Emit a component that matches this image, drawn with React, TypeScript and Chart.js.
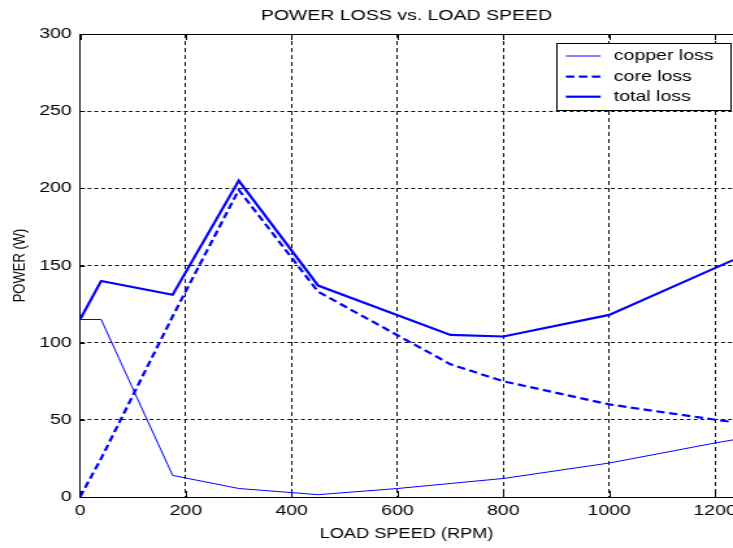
import React, { useEffect, useRef } from 'react';
import { Chart, registerables } from 'chart.js';

Chart.register(...registerables);

// ---- data ----
const copperSpeed = [0, 40, 175, 300, 450, 600, 800, 1000, 1200, 1234];
const copperLoss = [115, 115, 14, 5.5, 1.5, 5.5, 12, 22, 35, 37];

const coreSpeed = [0, 40, 175, 300, 450, 700, 800, 1000, 1100, 1234];
const coreLoss = [0, 25, 117, 199, 133, 86, 75, 60, 55, 48.5];

const totalSpeed = [0, 40, 175, 300, 450, 700, 800, 1000, 1234];
const totalLoss = [115, 140, 131, 205, 137, 105, 104, 118, 153.5];

const seriesLabels = ['copper loss', 'core loss', 'total loss'];
const chartTitle = 'POWER LOSS vs. LOAD SPEED';
const xTitle = 'LOAD SPEED (RPM)';
const yTitle = 'POWER (W)';
const xTickValues = [0, 200, 400, 600, 800, 1000, 1200];
const yTickValues = [0, 50, 100, 150, 200, 250, 300];
const xMin = 0;
const xMax = 1234;
const yMin = 0;
const yMax = 300;

// ---- layout / style ----
const CSS_W = 733;
const CSS_H = 548;
const INT_W = 564; // drawn narrower, shown stretched like the reference bitmap
const SX = CSS_W / INT_W;
const FONT = "'Liberation Sans', Arial, Helvetica, sans-serif";
const BLUE = '#0000ff';

const toPoints = (xs: number[], ys: number[]) => xs.map((x, i) => ({ x, y: ys[i] }));

const framePlugin = {
  id: 'matlabFrame',
  beforeDatasetsDraw(chart: any) {
    const { ctx, chartArea: a, scales } = chart;
    ctx.save();
    ctx.strokeStyle = '#000';
    ctx.lineWidth = 1;
    ctx.setLineDash([]);
    ctx.beginPath();
    const topY = Math.round(a.top) + 0.5;
    ctx.moveTo(a.left, topY);
    ctx.lineTo(a.right, topY);
    for (const t of scales.x.ticks) {
      const px = Math.round(scales.x.getPixelForValue(t.value)) + 0.5;
      ctx.moveTo(px, a.bottom);
      ctx.lineTo(px, a.bottom - 6);
      ctx.moveTo(px, a.top);
      ctx.lineTo(px, a.top + 6);
    }
    const tl = 5 / SX;
    for (const t of scales.y.ticks) {
      const py = Math.round(scales.y.getPixelForValue(t.value)) + 0.5;
      ctx.moveTo(a.left, py);
      ctx.lineTo(a.left + tl, py);
    }
    ctx.stroke();
    ctx.restore();
  },
};

const legendPlugin = {
  id: 'matlabLegend',
  afterDatasetsDraw(chart: any) {
    const { ctx, chartArea: a } = chart;
    const right = a.right - 1.7;
    const left = right - 133.8;
    const top = a.top + 9;
    const bottom = top + 67;
    ctx.save();
    ctx.fillStyle = '#fff';
    ctx.fillRect(left, top, right - left, bottom - top);
    ctx.strokeStyle = '#000';
    ctx.lineWidth = 1;
    ctx.setLineDash([]);
    ctx.strokeRect(Math.round(left) + 0.5, Math.round(top) + 0.5, Math.round(right - left), Math.round(bottom - top));
    const rows = [13, 33.7, 53.7];
    chart.data.datasets.forEach((ds: any, i: number) => {
      const y = top + rows[i];
      ctx.beginPath();
      ctx.strokeStyle = ds.borderColor;
      ctx.lineWidth = ds.borderWidth;
      ctx.setLineDash(ds.borderDash || []);
      ctx.moveTo(left + 6.9, y);
      ctx.lineTo(left + 33.6, y);
      ctx.stroke();
      ctx.setLineDash([]);
      ctx.fillStyle = '#000';
      ctx.font = `15px ${FONT}`;
      ctx.textAlign = 'left';
      ctx.textBaseline = 'middle';
      ctx.fillText(ds.label, left + 43.8, y);
    });
    ctx.restore();
  },
};

export default function App() {
  const canvasRef = useRef<HTMLCanvasElement | null>(null);

  useEffect(() => {
    const canvas = canvasRef.current;
    if (!canvas) return;
    const chart = new Chart(canvas, {
      type: 'line',
      data: {
        datasets: [
          {
            label: seriesLabels[0],
            data: toPoints(copperSpeed, copperLoss),
            borderColor: BLUE,
            borderWidth: 1,
            pointRadius: 0,
            tension: 0,
            fill: false,
          },
          {
            label: seriesLabels[1],
            data: toPoints(coreSpeed, coreLoss),
            borderColor: BLUE,
            borderWidth: 2.2,
            borderDash: [6.5, 3.5],
            pointRadius: 0,
            tension: 0,
            fill: false,
          },
          {
            label: seriesLabels[2],
            data: toPoints(totalSpeed, totalLoss),
            borderColor: BLUE,
            borderWidth: 2.2,
            pointRadius: 0,
            tension: 0,
            fill: false,
          },
        ],
      },
      options: {
        animation: false,
        responsive: false,
        devicePixelRatio: 1,
        events: [],
        layout: { padding: 0 },
        plugins: {
          legend: { display: false },
          tooltip: { enabled: false },
          title: {
            display: true,
            text: chartTitle,
            fullSize: false,
            color: '#000',
            font: { family: FONT, size: 15, weight: 'normal' as any, lineHeight: 1.2 },
            padding: { top: 7, bottom: 9 },
          },
        },
        scales: {
          x: {
            type: 'linear',
            min: xMin,
            max: xMax,
            afterBuildTicks(scale: any) {
              scale.ticks = xTickValues.map((value) => ({ value }));
            },
            ticks: {
              color: '#000',
              padding: 4.5,
              maxRotation: 0,
              autoSkip: false,
              callback: (v: any) => String(v),
              font: { family: FONT, size: 15, lineHeight: 1.2 },
            },
            grid: { color: '#111', lineWidth: 1, drawTicks: false },
            border: { display: true, color: '#000', width: 1, dash: [4, 3] },
            title: {
              display: true,
              text: xTitle,
              color: '#000',
              font: { family: FONT, size: 14, lineHeight: 1.2 },
              padding: { top: 0, bottom: 5.3 },
            },
            afterFit(scale: any) {
              scale.height = 51;
              scale.paddingLeft = 0;
              scale.paddingRight = 0;
            },
          },
          y: {
            type: 'linear',
            min: yMin,
            max: yMax,
            afterBuildTicks(scale: any) {
              scale.ticks = yTickValues.map((value) => ({ value }));
            },
            ticks: {
              color: '#000',
              padding: 8.3 / SX,
              autoSkip: false,
              callback: (v: any) => String(v),
              font: { family: FONT, size: 15, lineHeight: 1.2 },
            },
            grid: { color: '#111', lineWidth: 1, drawTicks: false },
            border: { display: true, color: '#000', width: 1, dash: [3, 2.3] },
            title: {
              display: true,
              text: yTitle,
              color: '#000',
              font: { family: FONT, size: 13, lineHeight: 1.2 },
              padding: { top: 7.2, bottom: 0 },
            },
            afterFit(scale: any) {
              scale.width = 80 / SX;
              scale.paddingTop = 0;
              scale.paddingBottom = 0;
            },
          },
        },
      },
      plugins: [framePlugin, legendPlugin],
    });
    return () => chart.destroy();
  }, []);

  return (
    <div style={{ position: 'absolute', left: 0, top: 0, width: CSS_W, height: CSS_H, overflow: 'hidden', background: '#fff' }}>
      <canvas
        ref={canvasRef}
        width={INT_W}
        height={CSS_H}
        style={{ width: `${CSS_W}px`, height: `${CSS_H}px`, display: 'block' }}
      />
    </div>
  );
}
